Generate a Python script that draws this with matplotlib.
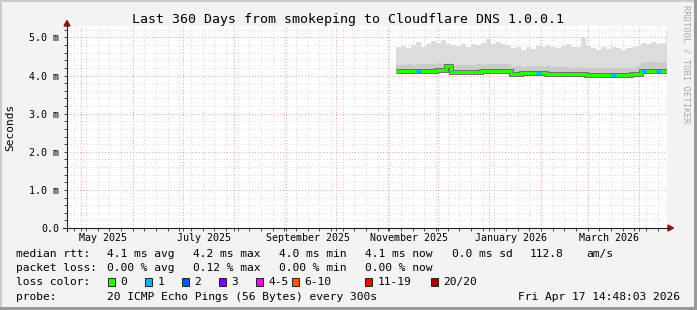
import datetime as dt
import matplotlib
matplotlib.use("Agg")
import matplotlib.pyplot as plt
import matplotlib.dates as mdates
from matplotlib.lines import Line2D
from matplotlib.patches import Rectangle, Polygon

# ---------------- data (values in ms) ----------------
start = dt.datetime(2025, 4, 22, 14, 48, 3)
end = dt.datetime(2026, 4, 17, 14, 48, 3)
first_sample = dt.datetime(2025, 11, 6)
step_days = 3

median = [4.11, 4.11, 4.12, 4.11, 4.12, 4.12, 4.13, 4.13, 4.14, 4.14, 4.24,
          4.09, 4.09, 4.10, 4.10, 4.10, 4.10, 4.11, 4.11, 4.11, 4.12, 4.12, 4.12,
          4.05, 4.05, 4.06, 4.06, 4.06, 4.06, 4.06, 4.05, 4.05, 4.05, 4.04,
          4.04, 4.03, 4.03, 4.03, 4.02, 4.02, 4.02, 4.02, 4.02, 4.02, 4.02, 4.02, 4.01, 4.03, 4.04,
          4.12, 4.13, 4.12, 4.12, 4.11, 4.11]
smoke_lo = [4.05, 4.05, 4.06, 4.05, 4.06, 4.06, 4.07, 4.07, 4.08, 4.08, 4.07,
            4.04, 4.04, 4.05, 4.05, 4.05, 4.04, 4.05, 4.05, 4.06, 4.06, 4.06, 4.05,
            3.98, 3.98, 3.99, 3.99, 3.99, 3.98, 3.98, 3.97, 3.97, 3.97, 3.96,
            3.96, 3.95, 3.95, 3.95, 3.94, 3.94, 3.95, 3.94, 3.94, 3.94, 3.95, 3.94, 3.94, 3.95, 3.97,
            4.06, 4.07, 4.06, 4.06, 4.05, 4.05]
smoke_mid = [4.28, 4.27, 4.30, 4.28, 4.29, 4.30, 4.31, 4.30, 4.32, 4.31, 4.34,
             4.26, 4.27, 4.28, 4.27, 4.28, 4.29, 4.28, 4.29, 4.30, 4.31, 4.30, 4.29,
             4.22, 4.24, 4.23, 4.24, 4.25, 4.24, 4.23, 4.24, 4.22, 4.23, 4.22,
             4.22, 4.21, 4.22, 4.21, 4.20, 4.21, 4.20, 4.20, 4.21, 4.20, 4.19, 4.20, 4.20, 4.19, 4.24,
             4.34, 4.36, 4.35, 4.34, 4.36, 4.35]
smoke_hi = [4.74, 4.78, 4.72, 4.80, 4.88, 4.76, 4.82, 4.90, 4.86, 4.92, 4.84,
            4.80, 4.78, 4.84, 4.76, 4.82, 4.80, 4.86, 4.96, 4.82, 4.88, 4.84, 4.80,
            4.72, 4.76, 4.68, 4.74, 4.70, 4.78, 4.74, 4.80, 4.76, 4.72, 4.78,
            4.82, 4.76, 4.74, 4.98, 4.78, 4.72, 4.68, 4.74, 4.70, 4.76, 4.72, 4.68, 4.72, 4.74, 4.78,
            4.86, 4.82, 4.88, 4.84, 4.86, 5.20]
loss = [0, 0, 0, 0, 1, 0, 0, 0, 0, 0, 0,
        0, 0, 0, 0, 0, 0, 0, 0, 0, 0, 0, 0,
        0, 0, 0, 0, 0, 1, 0, 0, 0, 0, 0,
        0, 0, 0, 0, 0, 0, 0, 0, 0, 1, 0, 0, 0, 0, 0,
        1, 0, 0, 1, 0, 0]

month_labels = ["May 2025", "July 2025", "September 2025", "November 2025",
                "January 2026", "March 2026"]
month_label_dates = [dt.datetime(2025, 5, 14), dt.datetime(2025, 7, 14),
                     dt.datetime(2025, 9, 14), dt.datetime(2025, 11, 14),
                     dt.datetime(2026, 1, 14), dt.datetime(2026, 3, 14)]
y_ticks = [0, 1, 2, 3, 4, 5]

loss_labels = ["0", "1", "2", "3", "4-5", "6-10", "11-19", "20/20"]
loss_colors = ["#26ff00", "#00b8ff", "#0059ff", "#7e00ff", "#ff00ff", "#ff5500", "#ff0000", "#a10000"]

rtt_stats = ["4.1 ms avg", "4.2 ms max", "4.0 ms min", "4.1 ms now", "0.0 ms sd", "112.8", "am/s"]
loss_stats = ["0.00 % avg", "0.12 % max", "0.00 % min", "0.00 % now"]

# ---------------- figure ----------------
W, H = 697, 310
BG = "#f3f3f3"
FONT = "DejaVu Sans Mono"
plt.rcParams["font.family"] = FONT

fig = plt.figure(figsize=(W / 100, H / 100), dpi=100)
fig.patch.set_facecolor(BG)


def fx(x):
    return x / W


def fy(y):
    return 1 - y / H


ax = fig.add_axes([fx(67), fy(228), 600 / W, 202 / H])
ax.set_facecolor("white")
ax.set_xlim(mdates.date2num(start), mdates.date2num(end))
ax.set_ylim(0, 5.3)

# grid
ax.set_yticks(y_ticks)
ax.set_yticks([v / 5 for v in range(0, 27)], minor=True)
ax.yaxis.set_major_formatter(matplotlib.ticker.FuncFormatter(
    lambda v, p: "0.0" if v == 0 else f"{v:.1f} m"))
ax.xaxis.set_major_locator(mdates.MonthLocator())
ax.xaxis.set_minor_locator(mdates.WeekdayLocator(byweekday=mdates.SU))
ax.xaxis.set_major_formatter(matplotlib.ticker.NullFormatter())
ax.grid(which="minor", color="#d9d9d9", linestyle=(0, (1, 2)), linewidth=0.75)
ax.grid(which="major", color="#f0a0a0", linestyle=(0, (1, 2)), linewidth=0.75)
ax.set_axisbelow(True)
ax.tick_params(which="both", direction="out", length=2, width=0.7, color="#444444")
ax.tick_params(axis="y", labelsize=7.2, pad=3.5)
for s in ax.spines.values():
    s.set_visible(False)

# smoke + median
dates = [first_sample + dt.timedelta(days=step_days * i) for i in range(len(median))]
xe = mdates.date2num(dates + [end])
ax.fill_between(xe, smoke_lo + smoke_lo[-1:], smoke_hi + smoke_hi[-1:], step="post",
                color="#dcdcdc", lw=0, zorder=2)
ax.fill_between(xe, median + median[-1:], smoke_mid + smoke_mid[-1:], step="post",
                color="#cacaca", lw=0, zorder=3)
line_kw = dict(drawstyle="steps-post", solid_joinstyle="miter", solid_capstyle="butt")
ax.plot(xe, median + median[-1:], color="#606060", lw=3.4, zorder=4, **line_kw)
ax.plot(xe, median + median[-1:], color=loss_colors[0], lw=2.2, zorder=5, **line_kw)
for i, l in enumerate(loss):
    if l:
        ax.plot([xe[i], xe[i + 1]], [median[i], median[i]], color=loss_colors[l],
                lw=2.2, solid_capstyle="butt", zorder=6)

# month labels
for d, t in zip(month_label_dates, month_labels):
    ax.text(mdates.date2num(d), -0.25, t, ha="center", va="center", fontsize=7.2,
            transform=ax.transData, clip_on=False)

# axes lines + arrows
fig.add_artist(Line2D([fx(67), fx(67)], [fy(231), fy(24)], color="#222222", lw=0.8))
fig.add_artist(Line2D([fx(63), fx(669)], [fy(228), fy(228)], color="#222222", lw=0.8))
arrow = "#8f1515"
fig.add_artist(Polygon([(fx(64), fy(26)), (fx(70), fy(26)), (fx(67), fy(20.5))],
                       closed=True, color=arrow, transform=fig.transFigure))
fig.add_artist(Polygon([(fx(668), fy(225)), (fx(668), fy(231)), (fx(673.5), fy(228))],
                       closed=True, color=arrow, transform=fig.transFigure))

# titles
fig.text(fx(348), fy(19), "Last 360 Days from smokeping to Cloudflare DNS 1.0.0.1",
         ha="center", va="center", fontsize=9.5)
fig.text(fx(10), fy(127), "Seconds", rotation=90, ha="center", va="center", fontsize=8)
fig.text(fx(686), fy(5), "RRDTOOL / TOBI OETIKER", rotation=270, ha="center", va="top",
         fontsize=6.4, color="#a8a8a8")

# legend
fs = 8.1
rows_y = [254, 268, 282, 296.5]
fig.text(fx(16), fy(rows_y[0]), "median rtt:", va="center", fontsize=fs)
for x, t in zip([106.7, 193.3, 279.3, 365, 451.7, 530, 586], rtt_stats):
    fig.text(fx(x), fy(rows_y[0]), t, va="center", fontsize=fs)
fig.text(fx(16), fy(rows_y[1]), "packet loss:", va="center", fontsize=fs)
for x, t in zip([106.7, 193.3, 279.3, 365], loss_stats):
    fig.text(fx(x), fy(rows_y[1]), t, va="center", fontsize=fs)
fig.text(fx(16), fy(rows_y[2]), "loss color:", va="center", fontsize=fs)
box_x = [108.3, 145, 181.7, 218.7, 255.7, 292.3, 365, 430.7]
for bx, t, c in zip(box_x, loss_labels, loss_colors):
    fig.add_artist(Rectangle((fx(bx), fy(rows_y[2] + 3.7)), 7 / W, 7.4 / H, facecolor=c,
                             edgecolor="#222222", lw=0.7, transform=fig.transFigure))
    fig.text(fx(bx + 12.4), fy(rows_y[2]), t, va="center", fontsize=fs)
fig.text(fx(16), fy(rows_y[3]), "probe:", va="center", fontsize=fs)
fig.text(fx(106.7), fy(rows_y[3]), "20 ICMP Echo Pings (56 Bytes) every 300s",
         va="center", fontsize=fs)
fig.text(fx(680), fy(rows_y[3]), "Fri Apr 17 14:48:03 2026", ha="right", va="center",
         fontsize=fs)

# frame shading
fig.add_artist(Rectangle((0, 0), fx(2), 1, color="#cbcbcb", transform=fig.transFigure, lw=0))
fig.add_artist(Rectangle((0, fy(2)), 1, 2 / H, color="#cbcbcb", transform=fig.transFigure, lw=0))
fig.add_artist(Rectangle((fx(694), 0), 3 / W, 1, color="#999999", transform=fig.transFigure, lw=0))
fig.add_artist(Rectangle((0, 0), 1, 3 / H, color="#999999", transform=fig.transFigure, lw=0))

fig.savefig("out.png", dpi=100, facecolor=BG)
